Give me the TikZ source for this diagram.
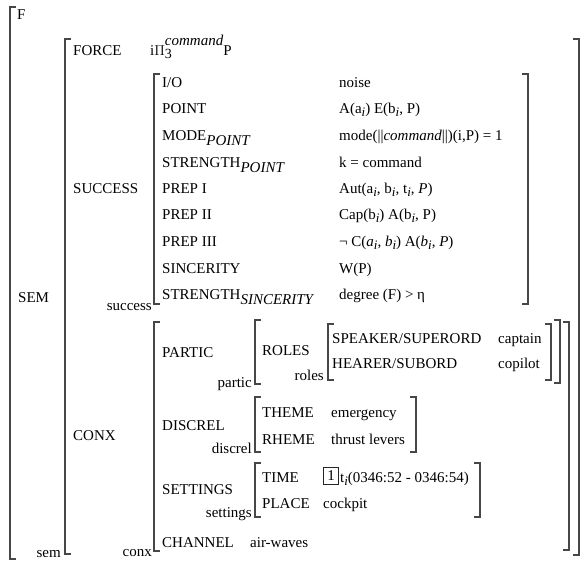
\documentclass[tikz,border=0pt]{standalone}
\usepackage{fontspec}
\setmainfont{Liberation Serif}
% square brackets of the attribute-value matrices
\newcommand\lbrk[3]{\draw[brk] ({#1+6},#2) -- (#1,#2) -- (#1,#3) -- ({#1+6},#3);}
\newcommand\rbrk[3]{\draw[brk] ({#1-6},#2) -- (#1,#2) -- (#1,#3) -- ({#1-6},#3);}
% lowered italic subscripts
\newcommand\sbt[1]{\raisebox{-5pt}{\itshape #1}}
\newcommand\si{\raisebox{-3.5pt}{\fontsize{13}{15}\selectfont\itshape i}}
\begin{document}
\begin{tikzpicture}[x=1pt,y=-1pt,
  lbl/.style={anchor=base west,inner sep=0pt,font=\fontsize{15}{18}\selectfont},
  tag/.style={anchor=base east,inner sep=0pt,font=\fontsize{15}{18}\selectfont},
  idxbox/.style={draw=black!85,line width=1.3pt,inner sep=0pt,minimum width=15pt,
    minimum height=17pt,font=\fontsize{15}{18}\selectfont},
  brk/.style={draw=black!72,line width=1.3pt}]
\useasboundingbox (0,0) rectangle (580,560);

% outer level
\lbrk{10}{7}{559}
\node[lbl] (f) at (17,19) {F};
\node[lbl] (sem) at (18,302) {SEM};
\node[tag] (semtag) at (61,557) {sem};

% SEM value
\lbrk{65}{39}{554}
\rbrk{579}{39}{555}
\node[lbl] (force) at (73,55) {FORCE};
\node[lbl] (forceval) at (150,55) {i\(\Pi\)\rlap{\raisebox{-3.5pt}{\fontsize{14}{16}\selectfont 3}}\raisebox{10pt}{\fontsize{15}{17}\selectfont\itshape command}P};
\node[lbl] (success) at (73,193) {SUCCESS};
\node[tag] (successtag) at (152,310) {success};
\node[lbl] (conx) at (73,440) {CONX};
\node[tag] (conxtag) at (152,556) {conx};

% SUCCESS value
\lbrk{154}{74}{304}
\rbrk{528}{74}{304}
\node[lbl] (io) at (162,87) {I/O};
\node[lbl] (point) at (162,113) {POINT};
\node[lbl] (mode) at (162,140) {MODE\sbt{POINT}};
\node[lbl] (strp) at (162,167) {STRENGTH\sbt{POINT}};
\node[lbl] (prep1) at (162,193) {PREP I};
\node[lbl] (prep2) at (162,219) {PREP II};
\node[lbl] (prep3) at (162,246) {PREP III};
\node[lbl] (sinc) at (162,273) {SINCERITY};
\node[lbl] (strs) at (162,299) {STRENGTH\sbt{SINCERITY}};
\node[lbl] (ioval) at (339,87) {noise};
\node[lbl] (pointval) at (339,113) {A(a\si) E(b\si, P)};
\node[lbl] (modeval) at (339,140) {mode(||\textit{command}||)(i,P) = 1};
\node[lbl] (strpval) at (339,167) {k = command};
\node[lbl] (prep1val) at (339,193) {Aut(a\si, b\si, t\si, \textit{P})};
\node[lbl] (prep2val) at (339,219) {Cap(b\si) A(b\si, P)};
\node[lbl] (prep3val) at (339,246) {¬ C(\textit{a}\si, \textit{b}\si) A(\textit{b}\si, \textit{P})};
\node[lbl] (sincval) at (339,273) {W(P)};
\node[lbl] (strsval) at (339,299) {degree (F) > η};

% CONX value
\lbrk{154}{322}{551}
\rbrk{569}{322}{550}
\node[lbl] (partic) at (162,357) {PARTIC};
\node[tag] (partictag) at (252,387) {partic};
\node[lbl] (discrel) at (162,430) {DISCREL};
\node[tag] (discreltag) at (252,453) {discrel};
\node[lbl] (settings) at (162,494) {SETTINGS};
\node[tag] (settingstag) at (252,517) {settings};
\node[lbl] (channel) at (162,547) {CHANNEL};
\node[lbl] (channelval) at (250,547) {air-waves};

% PARTIC value
\lbrk{255}{320}{384}
\rbrk{560}{320}{383}
\node[lbl] (roles) at (262,355) {ROLES};
\node[tag] (rolestag) at (324,380) {roles};

% ROLES value
\lbrk{328}{324}{380}
\rbrk{551}{324}{380}
\node[lbl] (speaker) at (332,343) {SPEAKER/SUPERORD};
\node[lbl] (hearer) at (332,368) {HEARER/SUBORD};
\node[lbl] (captain) at (498,343) {captain};
\node[lbl] (copilot) at (498,368) {copilot};

% DISCREL value
\lbrk{255}{397}{452}
\rbrk{416}{397}{452}
\node[lbl] (theme) at (262,417) {THEME};
\node[lbl] (rheme) at (262,444) {RHEME};
\node[lbl] (themeval) at (331,417) {emergency};
\node[lbl] (rhemeval) at (331,444) {thrust levers};

% SETTINGS value
\lbrk{255}{463}{517}
\rbrk{480}{463}{517}
\node[lbl] (time) at (262,482) {TIME};
\node[lbl] (place) at (262,508) {PLACE};
\node[idxbox] (idx) at (331,476) {1};
\node[lbl] (timeval) at (340,482) {t\si(0346:52 - 0346:54)};
\node[lbl] (placeval) at (323,508) {cockpit};
\end{tikzpicture}
\end{document}
